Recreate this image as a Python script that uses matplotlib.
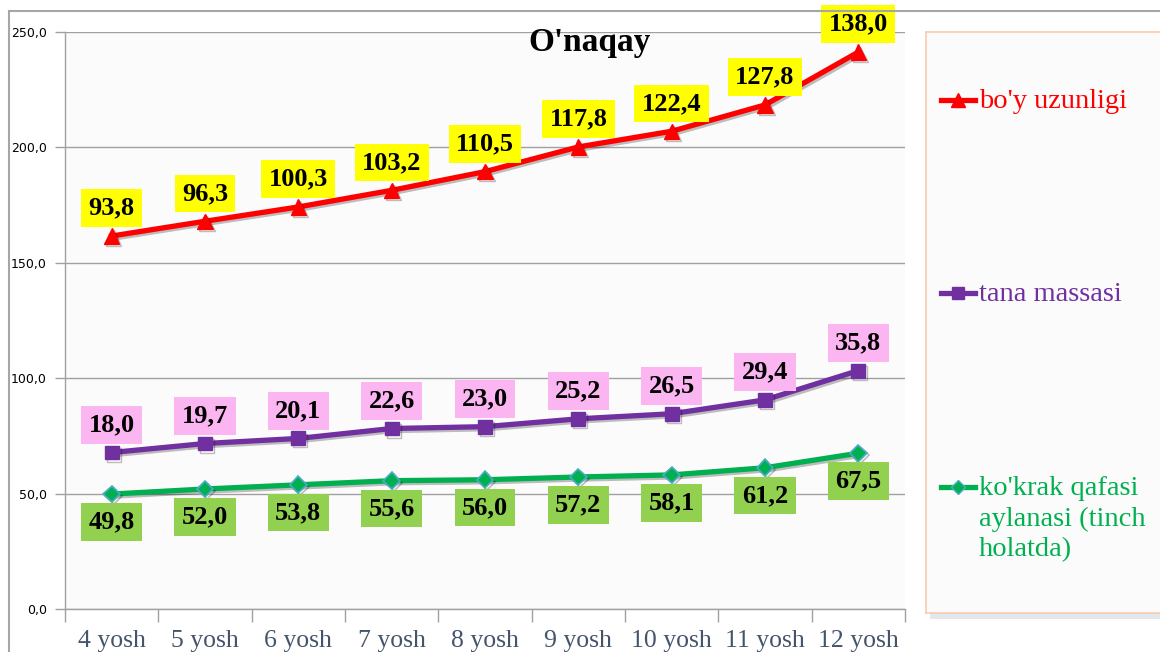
import matplotlib.pyplot as plt
import matplotlib.patheffects as pe
from matplotlib.patches import Rectangle
import numpy as np

plt.rcParams['font.family'] = ['Liberation Serif', 'DejaVu Serif']

# Data (Excel stacked line chart: series are drawn on top of each other)
categories = ['4 yosh', '5 yosh', '6 yosh', '7 yosh', '8 yosh', '9 yosh', '10 yosh', '11 yosh', '12 yosh']
boy_uzunligi = [93.8, 96.3, 100.3, 103.2, 110.5, 117.8, 122.4, 127.8, 138.0]
tana_massasi = [18.0, 19.7, 20.1, 22.6, 23.0, 25.2, 26.5, 29.4, 35.8]
kokrak_qafasi = [49.8, 52.0, 53.8, 55.6, 56.0, 57.2, 58.1, 61.2, 67.5]
series_names = ["bo'y uzunligi", 'tana massasi', "ko'krak qafasi\naylanasi (tinch\nholatda)"]

W, H = 1160, 652
fig = plt.figure(figsize=(W / 100, H / 100), dpi=100)

# outer chart border
fig.patches.append(Rectangle((9 / W, -0.1), 1.2, 1 - 11 / H + 0.1, transform=fig.transFigure,
                             fill=False, edgecolor='#a6a6a6', linewidth=1.5))

ax = fig.add_axes([65 / W, 1 - 609 / H, 840 / W, 577 / H])
ax.set_facecolor('#fbfbfb')

x = np.arange(len(categories))
green_y = np.array(kokrak_qafasi)
purple_y = green_y + np.array(tana_massasi)
red_y = purple_y + np.array(boy_uzunligi)

shadow = [pe.SimpleLineShadow(offset=(1.5, -1.5), alpha=0.25), pe.Normal()]
ax.plot(x, green_y, color='#00b050', lw=3.8, marker='D', ms=8.5, mfc='#00b050',
        mec='#4bacc6', mew=1.2, zorder=3, path_effects=shadow)
ax.plot(x, purple_y, color='#7030a0', lw=3.8, marker='s', ms=10, mfc='#7030a0',
        mec='#7030a0', zorder=3, path_effects=shadow)
ax.plot(x, red_y, color='#ff0000', lw=3.8, marker='^', ms=11, mfc='#ff0000',
        mec='#ff0000', zorder=3, path_effects=shadow)

def fmt(v):
    return f'{v:.1f}'.replace('.', ',')

label_kw = dict(textcoords='offset points', ha='center', va='center',
                fontsize=19, fontweight='bold', color='black', zorder=5)
for xi, yi, v in zip(x, red_y, boy_uzunligi):
    ax.annotate(fmt(v), (xi, yi), xytext=(0, 20),
                bbox=dict(boxstyle='square,pad=0.28', fc='#ffff00', ec='none'), **label_kw)
for xi, yi, v in zip(x, purple_y, tana_massasi):
    ax.annotate(fmt(v), (xi, yi), xytext=(0, 20),
                bbox=dict(boxstyle='square,pad=0.28', fc='#fbb5f1', ec='none'), **label_kw)
for xi, yi, v in zip(x, green_y, kokrak_qafasi):
    ax.annotate(fmt(v), (xi, yi), xytext=(0, -20),
                bbox=dict(boxstyle='square,pad=0.28', fc='#92d050', ec='none'), **label_kw)

ax.set_xlim(-0.5, len(categories) - 0.5)
ax.set_ylim(0, 250)
ax.set_yticks(np.arange(0, 251, 50))
ax.set_yticklabels([fmt(v) for v in np.arange(0, 251, 50)], family='DejaVu Sans', fontsize=9)
ax.yaxis.grid(True, color='#a0a0a0', lw=1)
ax.set_axisbelow(True)
ax.tick_params(axis='y', length=7, width=1, color='#a0a0a0', pad=6)

ax.set_xticks(x)
ax.set_xticklabels(categories, fontsize=18.5, color='#44546a')
ax.set_xticks(np.arange(-0.5, len(categories)), minor=True)
ax.tick_params(axis='x', which='major', length=0, pad=15)
ax.tick_params(axis='x', which='minor', length=9, width=1, color='#a0a0a0')

for s in ['top', 'right']:
    ax.spines[s].set_visible(False)
for s in ['left', 'bottom']:
    ax.spines[s].set_color('#a0a0a0')
    ax.spines[s].set_linewidth(1)

fig.text(590 / W, 1 - 42 / H, "O'naqay", ha='center', va='center',
         fontsize=24, fontweight='bold')

# legend panel
lax = fig.add_axes([926 / W, 1 - 613 / H, 290 / W, 581 / H])
lax.set_xlim(926, 1216)
lax.set_ylim(613, 32)
lax.set_facecolor('#fbfbfb')
lax.set_xticks([])
lax.set_yticks([])
for s in lax.spines.values():
    s.set_color('#f8cbad')
    s.set_linewidth(1.2)
lax.patch.set_path_effects([pe.SimplePatchShadow(offset=(3, -4), alpha=0.2,
                                                 shadow_rgbFace='#6a8a9a'), pe.Normal()])

legend_styles = [('#ff0000', '^', 10, '#ff0000'),
                 ('#7030a0', 's', 9, '#7030a0'),
                 ('#00b050', 'D', 7, '#4bacc6')]
legend_rows = [100, 293, 487]
for name, (col, mk, ms, mec), yy in zip(series_names, legend_styles, legend_rows):
    lax.plot([941, 975], [yy, yy], color=col, lw=3.8, clip_on=False)
    lax.plot([958], [yy], marker=mk, ms=ms, color=col, mec=mec, mew=1, clip_on=False)
    lax.text(979, yy - 11, name, color=col, fontsize=20.5, ha='left', va='top',
             linespacing=1.28)

fig.savefig('out.png', dpi=100)
